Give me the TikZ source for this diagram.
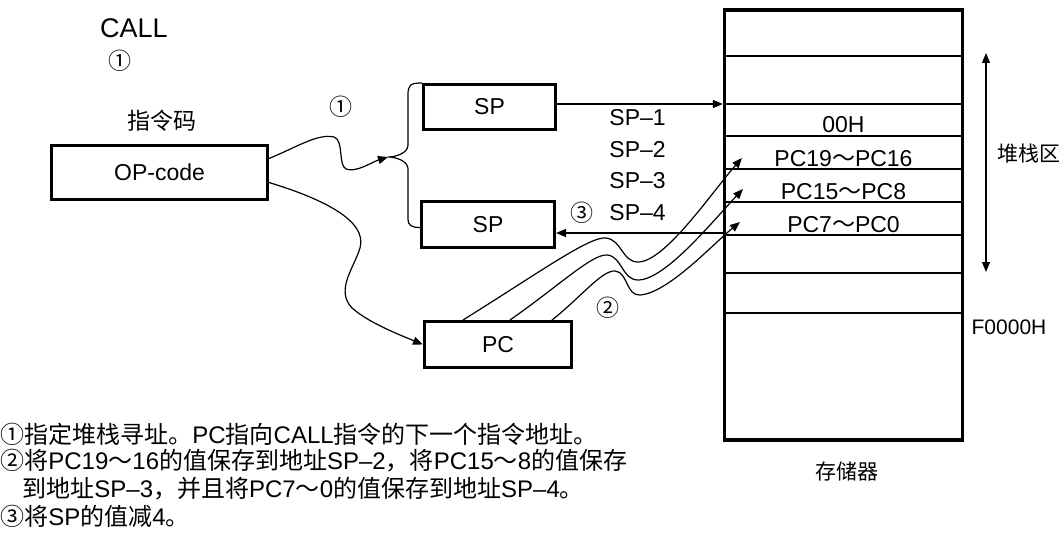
\documentclass[tikz,border=0pt]{standalone}
\usepackage{fontspec}
\setmainfont{Liberation Sans}
\newfontfamily\cjk{Noto Sans CJK SC}
\usetikzlibrary{arrows.meta, calc, positioning}
\newcommand{\zh}[1]{{\cjk #1}}

\begin{document}
\begin{tikzpicture}[x=0.5pt, y=-0.5pt, >={Triangle[length=5pt, width=4pt]},
    box/.style={draw, line width=1.5pt, inner sep=0pt},
    lbl/.style={inner sep=0pt, font=\fontsize{11.5}{13}\selectfont},
    small/.style={inner sep=0pt, font=\fontsize{10.5}{12}\selectfont},
    note/.style={inner sep=0pt, anchor=west, font=\fontsize{12}{14}\selectfont},
    arr/.style={->, line width=0.6pt}]
  \useasboundingbox (0,0) rectangle (1064,540);

  % memory
  \node[box, line width=1.7pt, minimum width=119pt, minimum height=215pt] (mem) at (843.5,225) {};
  \foreach \y in {56,104,235,273,313}
    \draw[line width=0.8pt] (mem.west |- 0,\y) -- (mem.east |- 0,\y);
  \foreach \y in {136,169,202}
    \draw[line width=1.3pt] (mem.west |- 0,\y) -- (mem.east |- 0,\y);
  \node[lbl, anchor=base] (m0) at (843.5,133) {00H};
  \node[lbl, anchor=base] (m1) at (843.5,166) {PC19\zh{～}PC16};
  \node[lbl, anchor=base] (m2) at (843.5,199) {PC15\zh{～}PC8};
  \node[lbl, anchor=base] (m3) at (843.5,232) {PC7\zh{～}PC0};
  \node[small] (memname) at (847,471) {\zh{存储器}};
  \node[small] (stackname) at (1029,154) {\zh{堆栈区}};
  \node[small] (bottom) at (1009,327) {F0000H};
  \coordinate (stop) at (986,53);
  \coordinate (sbot) at (986,272);
  \draw[<->, line width=0.6pt] (stop) -- (sbot);

  % registers
  \node[box, minimum width=108pt, minimum height=27pt, lbl] (opcode) at (159.5,172.5) {OP-code};
  \node[box, minimum width=66pt, minimum height=22.5pt, lbl] (sptop) at (489.5,107) {SP};
  \node[box, minimum width=66.5pt, minimum height=23pt, lbl] (spbot) at (488,224.5) {SP};
  \node[box, minimum width=73.5pt, minimum height=23pt, lbl] (pc) at (498,344.5) {PC};
  \node[lbl, font=\fontsize{13.5}{15}\selectfont] (call) at (134,28) {CALL};
  \node[lbl] (c1a) at (120,61) {\zh{①}};
  \node[lbl] (opname) at (162,121) {\zh{指令码}};
  \node[lbl] (c1b) at (341,107) {\zh{①}};
  \node[lbl] (c3) at (582,213) {\zh{③}};
  \node[lbl] (c2) at (608,308) {\zh{②}};
  \foreach \t/\y in {1/118,2/150,3/181,4/213}
    \node[lbl, anchor=west] (sp\t) at (609,\y) {SP–\t};

  % brace and arrows
  \coordinate (brtip) at (388,157);
  \draw[line width=0.6pt] (sptop.north west) .. controls +(-12,0) and +(0,-10) .. ($(sptop.north west)+(-14,12)$)
    -- ($(brtip)+(20,-12)$) .. controls +(0,8) and +(8,0) .. (brtip)
    .. controls +(8,0) and +(0,-8) .. ($(brtip)+(20,12)$)
    -- ($(spbot.west)+(-12,-5)$) .. controls +(0,6) and +(-8,0) .. ($(spbot.west)+(0,3)$);
  \draw[arr] ($(opcode.east)+(0,-14)$) .. controls (295,148) and (318,133) .. (334,137)
    .. controls (344,140) and (338,165) .. (346,169) .. controls (356,173) and (372,162) .. (brtip);
  \draw[arr] ($(opcode.east)+(0,10)$) .. controls (320,198) and (368,220) .. (360,248)
    .. controls (354,268) and (335,290) .. (352,308) .. controls (368,322) and (395,333) .. (pc.west);
  \draw[arr] ($(sptop.east)+(0,-3)$) -- (mem.west |- 0,104);
  \draw[arr] (mem.west |- 0,233) -- (spbot.east |- 0,233);

  \coordinate (t1) at (742,158);
  \coordinate (t2) at (743,189);
  \coordinate (t3) at (740,222);
  \draw[arr] ($(pc.north)+(-35,0)$) .. controls (540,272) and (590,236) .. (606,238)
    .. controls (622,240) and (622,262) .. (638,262) .. controls (665,262) and (712,192) .. (t1);
  \draw[arr] ($(pc.north)+(12,0)$) .. controls (560,285) and (592,254) .. (607,255)
    .. controls (622,256) and (622,280) .. (638,280) .. controls (665,280) and (712,222) .. (t2);
  \draw[arr] ($(pc.north)+(54,0)$) .. controls (580,298) and (602,270) .. (615,271)
    .. controls (628,272) and (626,296) .. (640,295) .. controls (668,293) and (712,245) .. (t3);

  % notes
  \node[note] (n1) at (0,434) {\zh{①指定堆栈寻址。}PC\zh{指向}CALL\zh{指令的下一个指令地址。}};
  \node[note] (n2) at (0,461) {\zh{②将}PC19\zh{～}16\zh{的值保存到地址}SP–2\zh{，将}PC15\zh{～}8\zh{的值保存}};
  \node[note] (n3) at (22,489) {\zh{到地址}SP–3\zh{，并且将}PC7\zh{～}0\zh{的值保存到地址}SP–4\zh{。}};
  \node[note] (n4) at (0,516) {\zh{③将}SP\zh{的值减}4\zh{。}};
\end{tikzpicture}
\end{document}
